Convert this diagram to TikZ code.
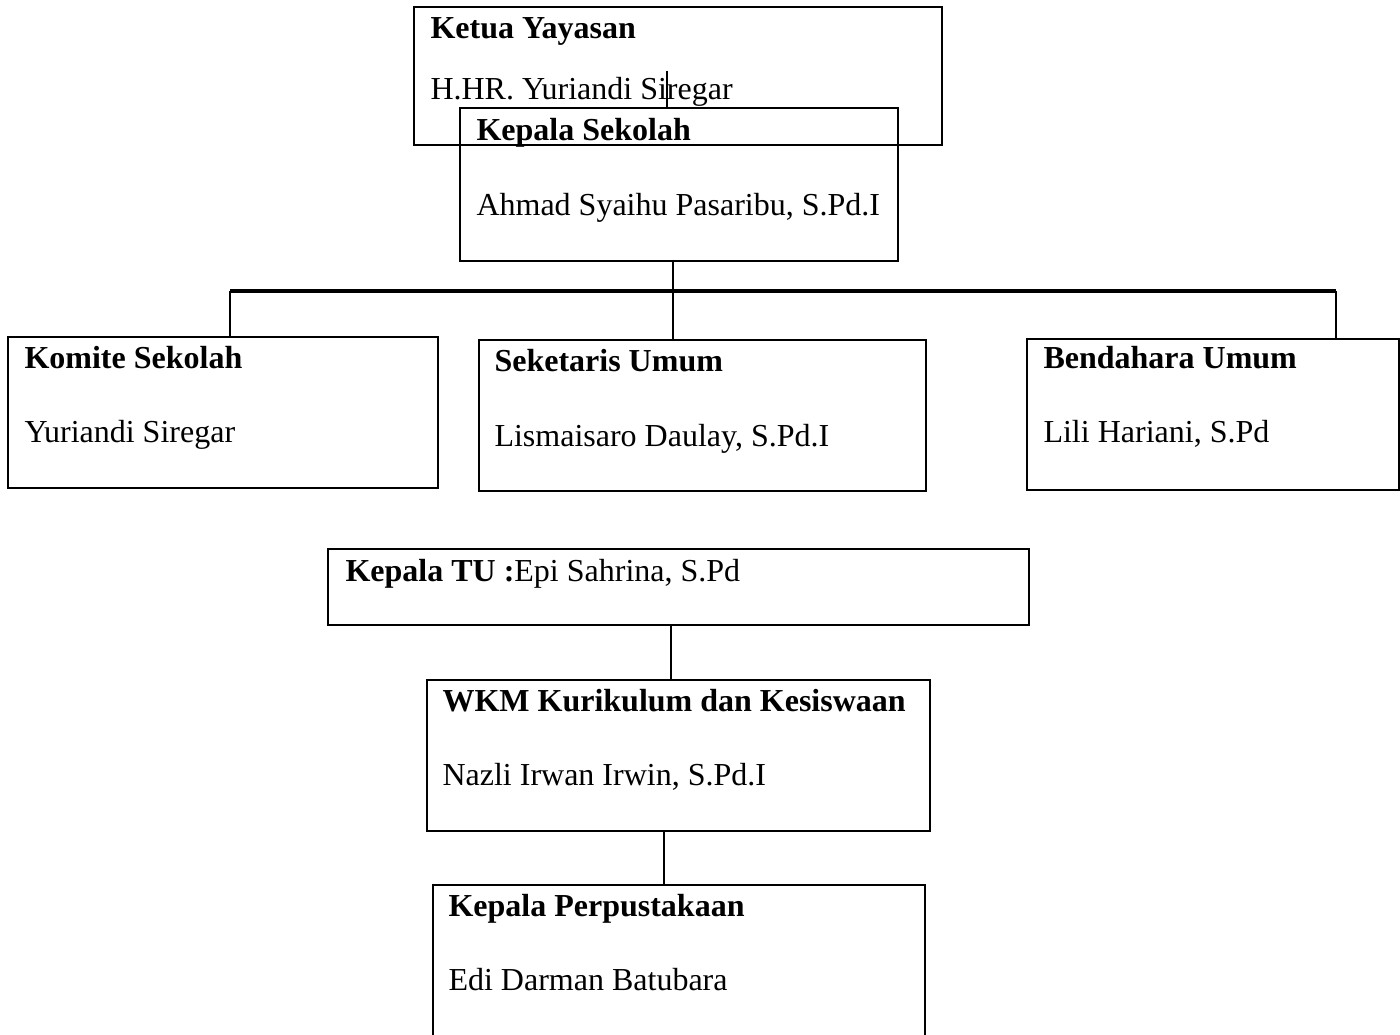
\documentclass[tikz,border=0pt]{standalone}
\usepackage{fontspec}
\setmainfont{Liberation Serif}
\usepackage{tikz}
\usetikzlibrary{positioning, calc}
\newcommand{\pxu}[1]{#1*0.375pt}
\tikzstyle{orgbox} = [rectangle, draw=black, line width=0.8pt, anchor=north west, inner sep=0pt, outer sep=0pt]
\tikzstyle{headtxt} = [inner sep=0pt, anchor=base west, font=\fontsize{12}{14}\selectfont\bfseries]
\tikzstyle{nametxt} = [inner sep=0pt, anchor=base west, font=\fontsize{12}{14}\selectfont]
\tikzstyle{line} = [draw, line width=0.6pt]
\tikzstyle{bar} = [draw, line width=1.4pt]

\begin{document}
\begin{tikzpicture}[x=0.375pt, y=-0.375pt]
    \clip (0,0) rectangle (1400,1035);
    % Nodes
    \node [orgbox, minimum width=\pxu{528}, minimum height=\pxu{138}] (ketua) at (414,7) {};
    \node [headtxt] (ketuaT) at ([shift={(16,32)}]ketua.north west) {Ketua Yayasan};
    \node [nametxt] (ketuaN) at ([shift={(16,93)}]ketua.north west) {H.HR. Yuriandi Siregar};

    \node [orgbox, minimum width=\pxu{438}, minimum height=\pxu{153}] (kepsek) at (460,108) {};
    \node [headtxt] (kepsekT) at ([shift={(16,33)}]kepsek.north west) {Kepala Sekolah};
    \node [nametxt] (kepsekN) at ([shift={(16,108)}]kepsek.north west) {Ahmad Syaihu Pasaribu, S.Pd.I};

    \node [orgbox, minimum width=\pxu{430}, minimum height=\pxu{151}] (komite) at (8,337) {};
    \node [headtxt] (komiteT) at ([shift={(16,32)}]komite.north west) {Komite Sekolah};
    \node [nametxt] (komiteN) at ([shift={(16,106)}]komite.north west) {Yuriandi Siregar};

    \node [orgbox, minimum width=\pxu{447}, minimum height=\pxu{151}] (sekum) at (479,340) {};
    \node [headtxt] (sekumT) at ([shift={(15,32)}]sekum.north west) {Seketaris Umum};
    \node [nametxt] (sekumN) at ([shift={(15,107)}]sekum.north west) {Lismaisaro Daulay, S.Pd.I};

    \node [orgbox, minimum width=\pxu{372}, minimum height=\pxu{151}] (bendum) at (1027,339) {};
    \node [headtxt] (bendumT) at ([shift={(16,30)}]bendum.north west) {Bendahara Umum};
    \node [nametxt] (bendumN) at ([shift={(16,104)}]bendum.north west) {Lili Hariani, S.Pd};

    \node [orgbox, minimum width=\pxu{701}, minimum height=\pxu{76}] (katu) at (328,549) {};
    \node [nametxt] (katuT) at ([shift={(17,33)}]katu.north west) {\textbf{Kepala TU :}Epi Sahrina, S.Pd};

    \node [orgbox, minimum width=\pxu{503}, minimum height=\pxu{151}] (wkm) at (427,680) {};
    \node [headtxt] (wkmT) at ([shift={(15,32)}]wkm.north west) {WKM Kurikulum dan Kesiswaan};
    \node [nametxt] (wkmN) at ([shift={(15,106)}]wkm.north west) {Nazli Irwan Irwin, S.Pd.I};

    \node [orgbox, minimum width=\pxu{492}, minimum height=\pxu{170}] (perpus) at (433,885) {};
    \node [headtxt] (perpusT) at ([shift={(15,32)}]perpus.north west) {Kepala Perpustakaan};
    \node [nametxt] (perpusN) at ([shift={(15,106)}]perpus.north west) {Edi Darman Batubara};

    \coordinate (top) at (667,71);
    \coordinate (mid) at (673,291);
    \coordinate (barL) at (230,291);
    \coordinate (barR) at (1336,291);

    % Edges
    \path [line] (top) -- (top |- kepsek.north);
    \path [bar] (barL) -- (barR);
    \path [line] (mid |- kepsek.south) -- (mid |- sekum.north);
    \path [line] (barL) -- (barL |- komite.north);
    \path [line] (barR) -- (barR |- bendum.north);
    \path [line] ([shift={(-7.5,0)}]katu.south) -- ([shift={(-7.5,0)}]wkm.north);
    \path [line] ([shift={(-14.5,0)}]wkm.south) -- ([shift={(-14.5,0)}]wkm.south |- perpus.north);
\end{tikzpicture}
\end{document}
